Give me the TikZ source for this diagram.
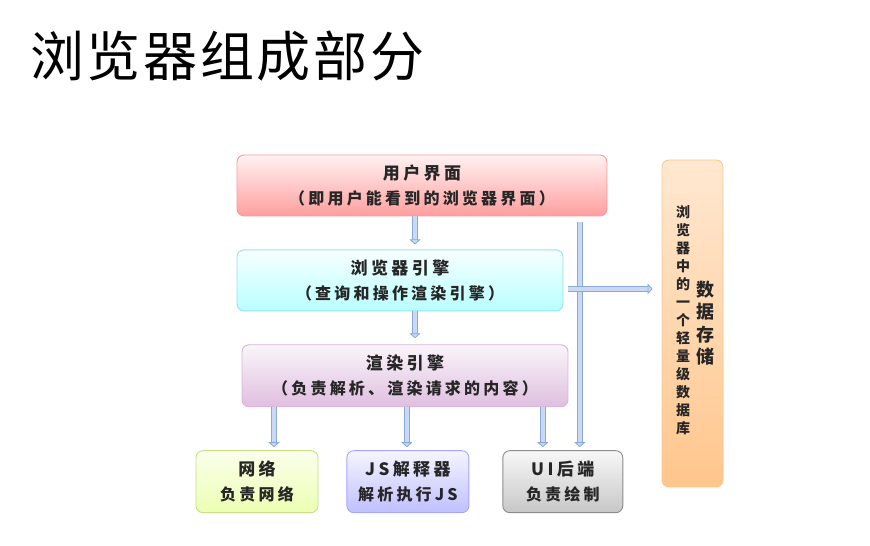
\documentclass[tikz,border=0pt]{standalone}
\usepackage{fontspec}
\setmainfont{Noto Sans CJK SC}
\newfontfamily\cjk[LetterSpace=20]{Noto Sans CJK SC}
\newfontfamily\headfont[LetterSpace=5]{Noto Sans CJK SC}
\usetikzlibrary{arrows.meta,positioning,calc}
\definecolor{pipefill}{HTML}{C9D9F5}
\definecolor{pipeedge}{HTML}{8AA8DC}
\tikzset{
  box/.style={draw, rounded corners=7pt, align=center, inner sep=2pt, line width=0.9pt,
              text=black!85, font=\cjk\bfseries\fontsize{16}{25}\selectfont},
  ui/.style={box, draw=red!40!white, top color=red!5, bottom color=red!38!white},
  browser/.style={box, draw=cyan!40!white, top color=cyan!3, bottom color=cyan!28!white},
  render/.style={box, draw=violet!30!white, top color=violet!4, bottom color=violet!25!white},
  net/.style={box, draw=lime!55!gray!60, top color=lime!8, bottom color=lime!30!white},
  js/.style={box, draw=blue!35!white, top color=blue!4, bottom color=blue!25!white},
  backend/.style={box, draw=black!45, top color=black!3, bottom color=black!22},
  store/.style={box, draw=orange!45!white, top color=orange!18!white, bottom color=orange!45!white},
  vtext/.style={align=center, inner sep=0pt, text=black!85, font=\bfseries\fontsize{14}{18}\selectfont},
  flow/.style={draw=pipeedge, double=pipefill, double distance=4pt, line width=0.8pt,
               -{Triangle[length=5pt, width=11pt, fill=pipefill]}},
  title/.style={font=\headfont\fontsize{54}{60}\selectfont, inner sep=0pt, text=black},
}
\begin{document}
\begin{tikzpicture}[x=1pt, y=1pt, node distance=33pt and 28pt]
  \useasboundingbox (0,0) rectangle (870,546);
  % title
  \node[title, anchor=west] (title) at (30,490) {浏览器组成部分};
  % main chain
  \node[ui, minimum width=370pt, minimum height=61pt] (ui) at (422,360.5)
    {{\fontsize{17}{25}\selectfont 用户界面}\\（即用户能看到的浏览器界面）};
  \node[browser, minimum width=326pt, minimum height=61pt, below=33pt of ui.south west, anchor=north west]
    (browser) {{\fontsize{17}{25}\selectfont 浏览器引擎}\\（查询和操作渲染引擎）};
  \node[render, minimum width=326pt, minimum height=62pt, below=33pt of browser.south west, anchor=north west, xshift=5pt]
    (render) {{\fontsize{17}{25}\selectfont 渲染引擎}\\（负责解析、渲染请求的内容）};
  % bottom row
  \node[net, minimum width=122pt, minimum height=62pt, below=43pt of render.south west, anchor=north west, xshift=-46pt]
    (net) {{\fontsize{17}{25}\selectfont 网络}\\负责网络};
  \node[js, minimum width=122pt, minimum height=62pt, right=28pt of net] (js)
    {{\fontsize{17}{25}\selectfont JS解释器}\\解析执行JS};
  \node[backend, minimum width=120pt, minimum height=62pt, right=33pt of js] (backend)
    {{\fontsize{17}{25}\selectfont UI后端}\\负责绘制};
  % data store
  \node[store, minimum width=61pt, minimum height=327pt] (store) at (692.5,222.5) {};
  \node[vtext] (storedesc) at ([xshift=-9.5pt, yshift=3.5pt]store.center)
    {浏\\览\\器\\中\\的\\一\\个\\轻\\量\\级\\数\\据\\库};
  \node[vtext, font=\bfseries\fontsize{18}{22.5}\selectfont] (storename) at ([xshift=12.5pt, yshift=0.5pt]store.center)
    {数\\据\\存\\储};
  % connectors
  \draw[flow, shorten >=5pt] ([xshift=-7pt]ui.south) -- ([xshift=-7pt]ui.south |- browser.north);
  \draw[flow, shorten >=6pt] ([xshift=15pt]browser.south) -- ([xshift=15pt]browser.south |- render.north);
  \draw[flow, shorten >=3pt] ([xshift=17pt]net.north |- render.south) -- ([xshift=17pt]net.north);
  \draw[flow, shorten >=3pt] ([xshift=-1pt]js.north |- render.south) -- ([xshift=-1pt]js.north);
  \draw[flow, shorten >=3pt] ([xshift=-20pt]backend.north |- render.south) -- ([xshift=-20pt]backend.north);
  \draw[flow, shorten >=3pt] ([xshift=17pt, yshift=-6pt]backend.north |- ui.south) -- ([xshift=17pt]backend.north);
  \draw[flow, shorten >=9pt] ([xshift=5pt, yshift=-8.5pt]browser.east) -- ([yshift=-8.5pt]browser.east -| store.west);
\end{tikzpicture}
\end{document}
